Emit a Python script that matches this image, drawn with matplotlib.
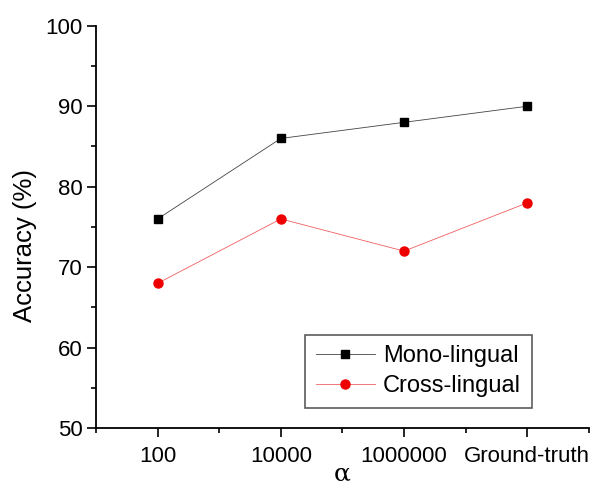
import matplotlib.pyplot as plt
from matplotlib.ticker import MultipleLocator

plt.rcParams['font.family'] = ['Liberation Sans', 'DejaVu Sans']

# data
alpha_labels = ["100", "10000", "1000000", "Ground-truth"]
mono_lingual = [76, 86, 88, 90]
cross_lingual = [68, 76, 72, 78]

x = range(len(alpha_labels))

fig = plt.figure(figsize=(5.93, 4.86), dpi=100)
ax = fig.add_axes([0.162, 0.119, 0.831, 0.828])

ax.plot(x, mono_lingual, color='#444444', linewidth=0.6, marker='s',
        markersize=5.5, markerfacecolor='black', markeredgecolor='black',
        label="Mono-lingual")
ax.plot(x, cross_lingual, color='#f06060', linewidth=0.6, marker='o',
        markersize=6.5, markerfacecolor='#ee0000', markeredgecolor='#ee0000',
        label="Cross-lingual")

ax.set_xlim(-0.5, 3.5)
ax.set_ylim(50, 100)
ax.set_xticks(list(x))
ax.set_xticklabels(alpha_labels)
ax.xaxis.set_minor_locator(MultipleLocator(0.5))
ax.yaxis.set_major_locator(MultipleLocator(10))
ax.yaxis.set_minor_locator(MultipleLocator(5))

ax.spines['top'].set_visible(False)
ax.spines['right'].set_visible(False)
ax.spines['left'].set_linewidth(1.3)
ax.spines['bottom'].set_linewidth(1.3)
ax.tick_params(axis='both', which='major', direction='out', length=6.5, width=1.2,
               labelsize=16, pad=3)
ax.tick_params(axis='both', which='minor', direction='out', length=3.5, width=1.2)
ax.tick_params(axis='x', which='major', pad=6)

ax.set_ylabel("Accuracy (%)", fontsize=18.5)
ax.yaxis.set_label_coords(-0.12, 0.455)
ax.set_xlabel("\u03b1", fontsize=18, family=['DejaVu Serif'], labelpad=-3)

leg = ax.legend(loc='lower left', bbox_to_anchor=(0.424, 0.05), fontsize=17,
                frameon=True, fancybox=False, edgecolor='#333333',
                borderpad=0.45, borderaxespad=0, handlelength=2.5,
                handletextpad=0.35, labelspacing=0.35)
leg.get_frame().set_linewidth(1.2)

fig.savefig("out.png", dpi=100)
